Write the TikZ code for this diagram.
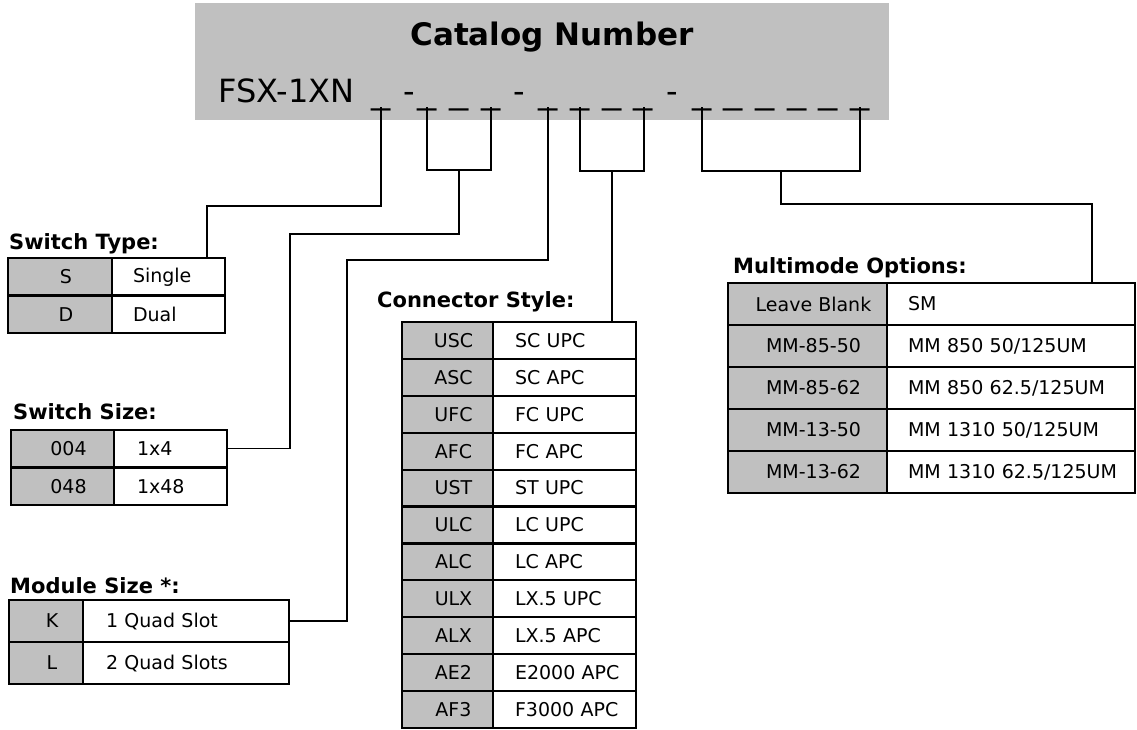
\documentclass[tikz,border=0pt]{standalone}
\usepackage{fontspec}
\usepackage{graphicx}
\setmainfont{DejaVu Sans}
\definecolor{cellgray}{HTML}{C0C0C0}
\tikzset{
  wire/.style={line width=1.3pt},
  cell/.style={draw, line width=2.2pt, anchor=north west, inner sep=0pt, outer sep=0pt,
    font=\fontsize{19}{22}\selectfont},
  codecell/.style={cell, fill=cellgray},
  desccell/.style={cell, fill=white, align=left},
  tabtitle/.style={anchor=base west, inner sep=0pt, font=\bfseries\fontsize{21}{25}\selectfont},
  blank/.style={anchor=base, inner sep=0pt, font=\fontsize{32}{38}\selectfont},
}
\begin{document}
\begin{tikzpicture}[x=1pt, y=-1pt]
  \useasboundingbox (0,0) rectangle (1137,729);

  % header
  \node[fill=cellgray, anchor=north west, inner sep=0pt, minimum width=694pt, minimum height=117pt] (hdr) at (195,3) {};
  \node[anchor=base, inner sep=0pt, font=\bfseries\fontsize{31}{37}\selectfont] (ct) at (552,45) {Catalog Number};
  \node[blank, anchor=base west] (pn) at (218,102) {FSX-1XN};
  \foreach \x [count=\i] in {409,519,672}
    \node[blank] (h\i) at (\x,102) {-};
  \foreach \x [count=\i] in {381,427.5,459,491,548,580,612,643,702,733,765,797,828,860}
    \node[blank] (u\i) at (\x,103) {\scalebox{1.2}[1]{\_}};

  % switch type
  \node[tabtitle] (stt) at (9,249) {Switch Type:};
  \foreach \code/\desc [count=\i] in {S/Single, D/Dual} {
    \node[codecell, minimum width=104pt, minimum height=37.5pt] (stc\i) at (8,{258+(\i-1)*37.5}) {\hspace*{12pt}\code};
    \node[desccell, text width=113pt, minimum height=37.5pt] (std\i) at (stc\i.north east) {\hspace*{21pt}\desc};
  }

  % switch size
  \node[tabtitle] (sst) at (13,419) {Switch Size:};
  \foreach \code/\desc [count=\i] in {004/1x4, 048/1x48} {
    \node[codecell, minimum width=103pt, minimum height=37.5pt] (ssc\i) at (11,{430+(\i-1)*37.5}) {\hspace*{12pt}\code};
    \node[desccell, text width=113pt, minimum height=37.5pt] (ssd\i) at (ssc\i.north east) {\hspace*{23pt}\desc};
  }

  % module size
  \node[tabtitle] (mst) at (10,593) {Module Size *:};
  \foreach \code/\desc [count=\i] in {K/1 Quad Slot, L/2 Quad Slots} {
    \node[codecell, minimum width=74pt, minimum height=42pt] (msc\i) at (9,{600+(\i-1)*42}) {\hspace*{12pt}\code};
    \node[desccell, text width=206pt, minimum height=42pt] (msd\i) at (msc\i.north east) {\hspace*{23pt}\desc};
  }

  % connector style
  \node[tabtitle] (cst) at (377,307) {Connector Style:};
  \foreach \code/\desc [count=\i] in {USC/SC UPC, ASC/SC APC, UFC/FC UPC, AFC/FC APC, UST/ST UPC,
      ULC/LC UPC, ALC/LC APC, ULX/LX.5 UPC, ALX/LX.5 APC, AE2/E2000 APC, AF3/F3000 APC} {
    \node[codecell, minimum width=91pt, minimum height=36.9pt] (csc\i) at (402,{322+(\i-1)*36.9}) {\hspace*{12pt}\code};
    \node[desccell, text width=143pt, minimum height=36.9pt] (csd\i) at (csc\i.north east) {\hspace*{22pt}\desc};
  }

  % multimode options
  \node[tabtitle] (mmt) at (733,273) {Multimode Options:};
  \foreach \code/\desc [count=\i] in {Leave Blank/SM, MM-85-50/{MM 850 50/125UM}, MM-85-62/{MM 850 62.5/125UM},
      MM-13-50/{MM 1310 50/125UM}, MM-13-62/{MM 1310 62.5/125UM}} {
    \node[codecell, minimum width=159pt, minimum height=42pt] (mmc\i) at (728,{283+(\i-1)*42}) {\hspace*{12pt}\code};
    \node[desccell, text width=248pt, minimum height=42pt] (mmd\i) at (mmc\i.north east) {\hspace*{21pt}\desc};
  }

  % ticks under the blanks
  \coordinate (t1) at (381,107);
  \coordinate (t2) at (427,107);
  \coordinate (t3) at (491,107);
  \coordinate (t5) at (548,107);
  \coordinate (t6) at (580,107);
  \coordinate (t7) at (644,107);
  \coordinate (t8) at (702,107);
  \coordinate (t9) at (860,107);
  \coordinate (k2) at (459,170);
  \coordinate (k4) at (612,171);
  \coordinate (k5) at (781,171);
  \coordinate (e1) at (207,206);
  \coordinate (e2) at (290,234);
  \coordinate (e3) at (347,260);
  \coordinate (e5) at (1092,204);

  % connectors
  \draw[wire] (t1) |- (e1) -- (e1 |- std1.north);
  \draw[wire] (t2) |- (k2) -| (t3);
  \draw[wire] (k2) |- (e2) |- (ssd1.east);
  \draw[wire] (t5) |- (e3) |- (msd1.east);
  \draw[wire] (t6) |- (k4) -| (t7);
  \draw[wire] (k4) -- (k4 |- csd1.north);
  \draw[wire] (t8) |- (k5) -| (t9);
  \draw[wire] (k5) |- (e5) -- (e5 |- mmd1.north);
\end{tikzpicture}
\end{document}
